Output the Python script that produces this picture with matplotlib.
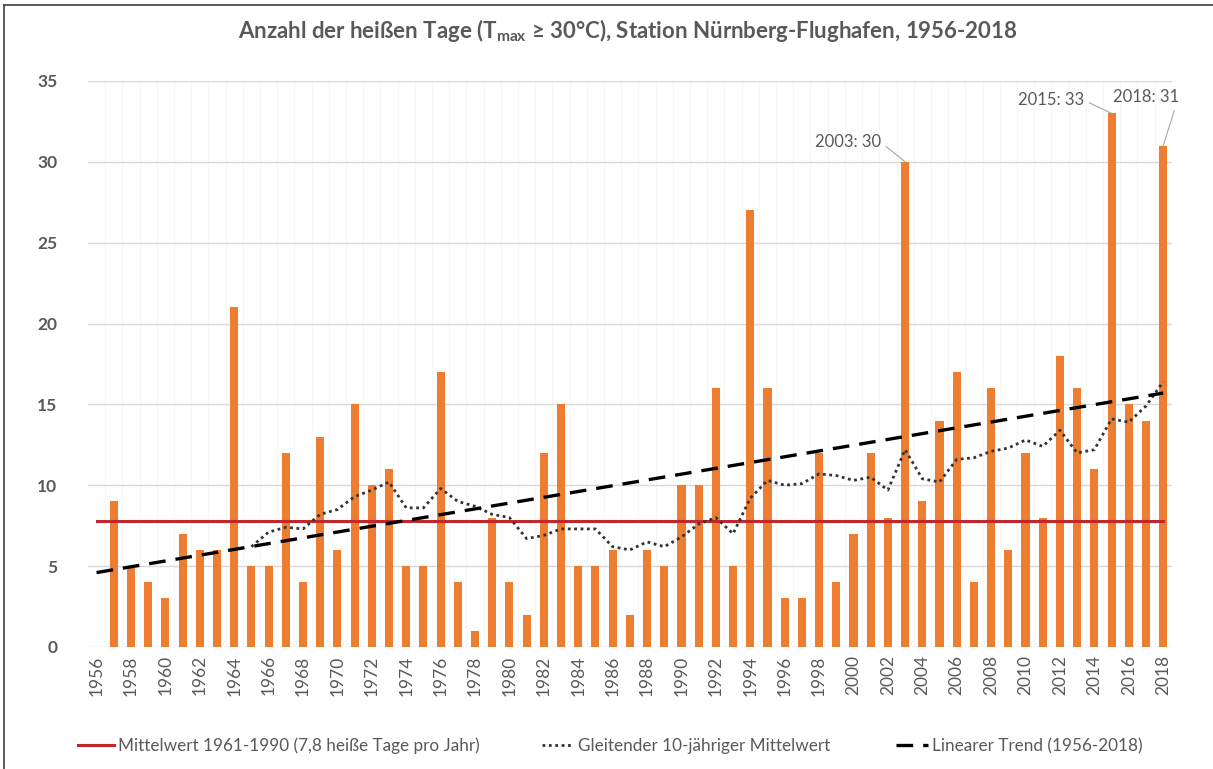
import matplotlib
matplotlib.use("Agg")
import matplotlib.pyplot as plt
from matplotlib.lines import Line2D
import numpy as np

plt.rcParams["font.family"] = ["Lato", "DejaVu Sans"]

# Data
years = list(range(1956, 2019))
hot_days = [0, 9, 5, 4, 3, 7, 6, 6, 21, 5,
            5, 12, 4, 13, 6, 15, 10, 11, 5, 5,
            17, 4, 1, 8, 4, 2, 12, 15, 5, 5,
            6, 2, 6, 5, 10, 10, 16, 5, 27, 16,
            3, 3, 12, 4, 7, 12, 8, 30, 9, 14,
            17, 4, 16, 6, 12, 8, 18, 16, 11, 33,
            15, 14, 31]

# gleitender 10-jaehriger Mittelwert, 1965-2018
ma_years = list(range(1965, 2019))
ma_values = [6.2, 7.1, 7.4, 7.3, 8.2, 8.5, 9.3, 9.7, 10.2, 8.6,
             8.6, 9.8, 9.0, 8.7, 8.2, 8.0, 6.7, 6.9, 7.3, 7.3,
             7.3, 6.2, 6.0, 6.5, 6.2, 6.8, 7.6, 8.0, 7.0, 9.2,
             10.3, 10.0, 10.1, 10.7, 10.6, 10.3, 10.5, 9.7, 12.2, 10.4,
             10.2, 11.6, 11.7, 12.1, 12.3, 12.8, 12.4, 13.4, 12.0, 12.2,
             14.1, 13.9, 14.9, 16.4]

trend_years = [1956, 2018]
trend_values = [4.6, 15.7]

mean_1961_1990 = 7.8

labels = {2003: "2003: 30", 2015: "2015: 33", 2018: "2018: 31"}
label_pos = {2003: (2001.6, 31.2), 2015: (2013.4, 33.8), 2018: (2018.9, 34.0)}

gray = "#595959"
orange = "#ED7D31"
red = "#C0282D"

fig = plt.figure(figsize=(12.13, 7.69), dpi=100)
ax = fig.add_axes([0.0725, 0.1587, 0.8935, 0.736])

ax.bar(years, hot_days, width=0.47, color=orange, zorder=2)
ax.plot([years[0], years[-1]], [mean_1961_1990, mean_1961_1990],
        color=red, lw=2.2, zorder=3)
ax.plot(ma_years, ma_values, color="#333333", lw=2.0, linestyle=(0, (1, 1.3)), zorder=4)
ax.plot(trend_years, trend_values, color="black", lw=2.4, linestyle=(0, (5, 3)), zorder=4)

for yr, txt in labels.items():
    tx, ty = label_pos[yr]
    ax.annotate(txt, xy=(yr, hot_days[years.index(yr)]), xytext=(tx, ty),
                ha="right", va="center", fontsize=12, color=gray,
                arrowprops=dict(arrowstyle="-", color="#A6A6A6", lw=0.8,
                                shrinkA=2, shrinkB=0, relpos=(1, 0.5)))

ax.set_xlim(1955.5, 2018.5)
ax.set_ylim(0, 35)
ax.set_yticks(range(0, 36, 5))
ax.set_xticks(range(1956, 2019, 2))
ax.set_xticklabels([str(y) for y in range(1956, 2019, 2)], rotation=90)
ax.tick_params(axis="y", length=0, pad=22, labelsize=12.5, labelcolor=gray)
ax.tick_params(axis="x", length=0, pad=6, labelsize=12.5, labelcolor=gray)
for lab in ax.get_yticklabels():
    lab.set_fontweight("bold")

ax.grid(axis="y", color="#D9D9D9", lw=1.0, zorder=0)
for x in years:
    ax.axvline(x + 0.5, color="#F7F7F7", lw=0.8, zorder=0)
for s in ax.spines.values():
    s.set_visible(False)

fig.text(0.518, 0.960, "Anzahl der heißen Tage (T$_{\\mathregular{max}}$ ≥ 30°C), Station Nürnberg-Flughafen, 1956-2018",
         ha="center", va="center", fontsize=16, fontweight="bold", color=gray)

# Legende: drei einzelne Eintraege wie im Original
entries = [
    (Line2D([], [], color=red, lw=2.2),
     "Mittelwert 1961-1990 (7,8 heiße Tage pro Jahr)", 0.059, 2.1),
    (Line2D([], [], color="#333333", lw=2.0, linestyle=(0, (1, 1.3))),
     "Gleitender 10-jähriger Mittelwert", 0.441, 1.9),
    (Line2D([], [], color="black", lw=2.4, linestyle=(0, (5, 3))),
     "Linearer Trend (1956-2018)", 0.733, 1.9),
]
for handle, name, x0, hl in entries:
    fig.legend([handle], [name], loc="center left", bbox_to_anchor=(x0, 0.03),
               frameon=False, fontsize=12.3, labelcolor=gray, handlelength=hl,
               handletextpad=0.2, borderaxespad=0)

# Rahmen links und oben
fig.add_artist(Line2D([0.003, 0.003], [0, 0.994], color="#404040", lw=1.2,
                      transform=fig.transFigure))
fig.add_artist(Line2D([0.003, 1.0], [0.994, 0.994], color="#404040", lw=1.2,
                      transform=fig.transFigure))

fig.savefig("out.png", dpi=100)
